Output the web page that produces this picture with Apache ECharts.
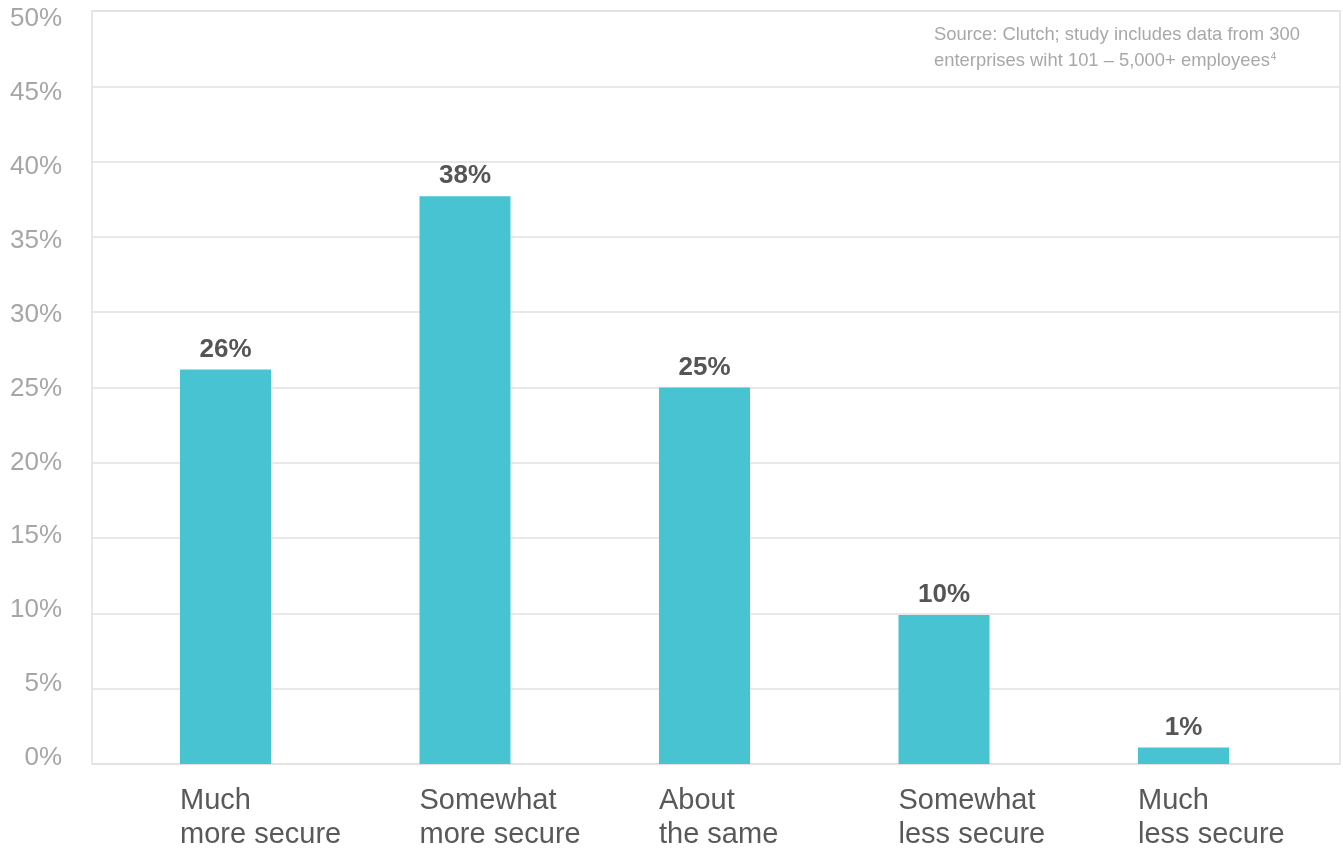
<!DOCTYPE html>
<html>
<head>
<meta charset="utf-8">
<script src="https://cdn.jsdelivr.net/npm/echarts@6/dist/echarts.min.js"></script>
<style>
  html, body { margin: 0; padding: 0; background: #fff; }
  #chart { width: 1343px; height: 851px; }
</style>
</head>
<body>
<div id="chart"></div>
<script>
// categories and values
const categories = ['Much\nmore secure', 'Somewhat\nmore secure', 'About\nthe same', 'Somewhat\nless secure', 'Much\nless secure']
const shares = [26.2, 37.7, 25, 9.9, 1.1]
const yTicks = [0, 50, 5] // min, max, step

const font = '"Liberation Sans", Arial, Helvetica, sans-serif'
const colors = {
  bar: '#48C3D1',
  axisText: '#a6a6a6',
  catText: '#595959',
  valueText: '#555555',
  line: '#e0e0e0',
  note: '#a8a8a8'
}

const chart = echarts.init(document.getElementById('chart'))

const option = {
  backgroundColor: '#fff',
  animation: false,
  title: {
    left: 934,
    top: 22,
    padding: 0,
    text: 'Source: Clutch; study includes data from 300\nenterprises wiht 101 – 5,000+ employees{sup|4}',
    textStyle: {
      fontFamily: font,
      fontSize: 18.4,
      fontWeight: 'normal',
      color: colors.note,
      lineHeight: 26,
      rich: {
        sup: { fontSize: 10, color: colors.note, fontFamily: font, verticalAlign: 'top', padding: [4, 0, 0, 1] }
      }
    }
  },
  grid: [
    // background frame + split lines
    { left: 92, right: 3, top: 11, bottom: 87, outerBoundsMode: 'none', show: true, borderColor: colors.line, borderWidth: 1.5 },
    // bars (category centers sit on bar left edges)
    { left: 60.25, width: 1197.5, top: 11, bottom: 87, outerBoundsMode: 'none' },
    // y labels sit slightly inside the lines in the original
    { left: 92, right: 3, top: 19, bottom: 93, outerBoundsMode: 'none' }
  ],
  xAxis: [
    { gridIndex: 0, type: 'category', data: categories, show: false },
    {
      gridIndex: 1,
      type: 'category',
      data: categories,
      axisLine: { show: false },
      axisTick: { show: false },
      axisLabel: {
        align: 'left',
        margin: 20,
        fontFamily: font,
        fontSize: 29,
        lineHeight: 34,
        color: colors.catText,
        interval: 0
      }
    },
    { gridIndex: 2, type: 'category', data: categories, show: false }
  ],
  yAxis: [
    {
      gridIndex: 0,
      type: 'value',
      min: yTicks[0], max: yTicks[1], interval: yTicks[2],
      axisLabel: { show: false },
      axisLine: { show: false },
      axisTick: { show: false },
      splitLine: { lineStyle: { color: colors.line, width: 1.5 } }
    },
    {
      gridIndex: 1,
      type: 'value',
      min: yTicks[0], max: yTicks[1], interval: yTicks[2],
      show: false,
      splitLine: { show: false }
    },
    {
      gridIndex: 2,
      type: 'value',
      min: yTicks[0], max: yTicks[1], interval: yTicks[2],
      axisLine: { show: false },
      axisTick: { show: false },
      splitLine: { show: false },
      axisLabel: {
        margin: 30,
        fontFamily: font,
        fontSize: 26,
        color: colors.axisText,
        formatter: v => v + '%'
      }
    }
  ],
  series: [
    {
      // empty spacer so the real bar sits right of the category center
      type: 'bar',
      xAxisIndex: 1,
      yAxisIndex: 1,
      barWidth: 91,
      barGap: '0%',
      data: categories.map(() => null),
      silent: true
    },
    {
      type: 'bar',
      xAxisIndex: 1,
      yAxisIndex: 1,
      barWidth: 91,
      barGap: '0%',
      data: shares,
      itemStyle: { color: colors.bar },
      label: {
        show: true,
        position: 'top',
        distance: 7,
        fontFamily: font,
        fontSize: 26,
        fontWeight: 'bold',
        color: colors.valueText,
        formatter: p => Math.round(p.value) + '%'
      }
    }
  ]
}

chart.setOption(option)
window.addEventListener('resize', () => chart.resize())
</script>
</body>
</html>
